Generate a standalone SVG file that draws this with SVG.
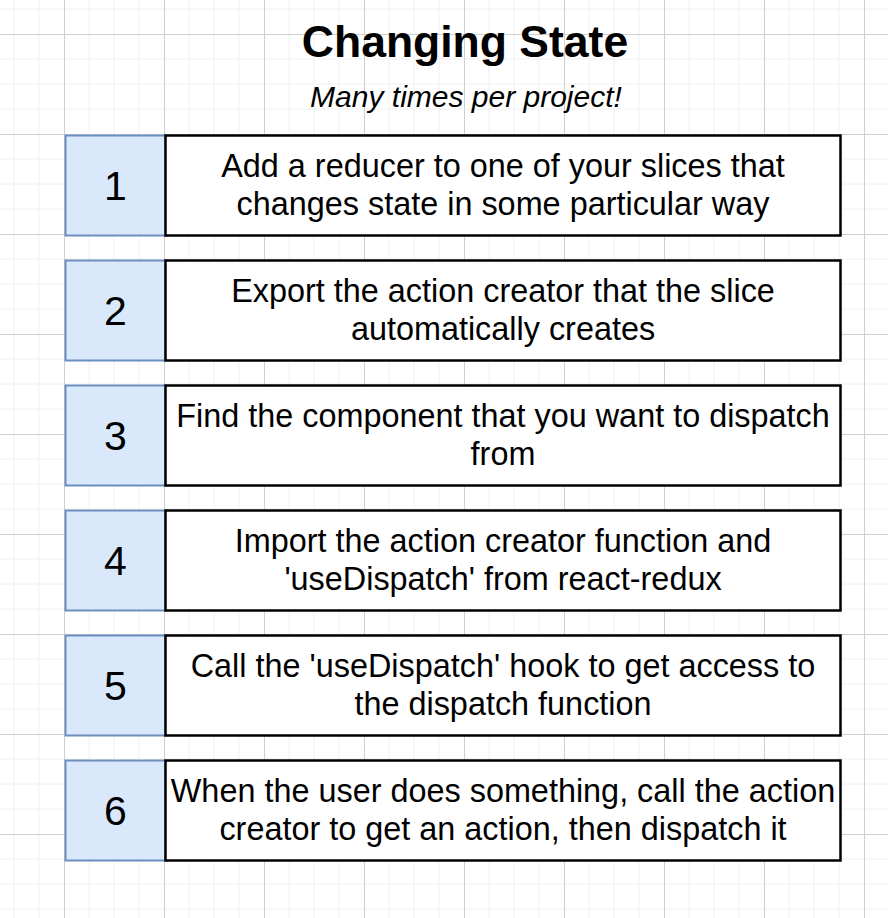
<svg xmlns="http://www.w3.org/2000/svg" width="888" height="918" viewBox="0 0 888 918">
<defs>
<style>
.num{fill:#dae8fc;stroke:#6c8ebf;stroke-width:2}
.box{fill:#ffffff;stroke:#000000;stroke-width:2.5}
.t{font-family:"Liberation Sans",Arial,Helvetica,sans-serif;font-size:32.4px;fill:#000;text-anchor:middle}
.n{font-family:"Liberation Sans",Arial,Helvetica,sans-serif;font-size:41px;fill:#000;text-anchor:middle}
.title{font-family:"Liberation Sans",Arial,Helvetica,sans-serif;font-size:44.5px;font-weight:bold;fill:#000;text-anchor:middle}
.sub{font-family:"Liberation Sans",Arial,Helvetica,sans-serif;font-size:30px;font-style:italic;fill:#000;text-anchor:middle}
</style>
<pattern id="grid" x="64" y="34" width="100" height="100" patternUnits="userSpaceOnUse">
<path d="M25 0V100M50 0V100M75 0V100M0 25H100M0 50H100M0 75H100" stroke="#f0f0f0" stroke-width="1" fill="none"/>
<path d="M0.5 0V100M0 0.5H100" stroke="#d0d0d0" stroke-width="1" fill="none"/>
</pattern>
</defs>
<rect width="888" height="918" fill="#ffffff"/>
<rect width="888" height="918" fill="url(#grid)"/>
<g id="title">
<text class="title" x="465" y="57">Changing State</text>
<text class="sub" x="466" y="106.5">Many times per project!</text>
</g>
<g id="connectors"></g>
<g id="step1">
<rect class="num" x="65.5" y="135.5" width="100" height="100"/>
<rect class="box" x="165.5" y="135.5" width="675" height="100"/>
<text class="n" x="115.5" y="200">1</text>
<text class="t" x="503" y="177">Add a reducer to one of your slices that</text>
<text class="t" x="503" y="214.5">changes state in some particular way</text>
</g>
<g id="step2">
<rect class="num" x="65.5" y="260.5" width="100" height="100"/>
<rect class="box" x="165.5" y="260.5" width="675" height="100"/>
<text class="n" x="115.5" y="325">2</text>
<text class="t" x="503" y="302">Export the action creator that the slice</text>
<text class="t" x="503" y="339.5">automatically creates</text>
</g>
<g id="step3">
<rect class="num" x="65.5" y="385.5" width="100" height="100"/>
<rect class="box" x="165.5" y="385.5" width="675" height="100"/>
<text class="n" x="115.5" y="450">3</text>
<text class="t" x="503" y="427">Find the component that you want to dispatch</text>
<text class="t" x="503" y="464.5">from</text>
</g>
<g id="step4">
<rect class="num" x="65.5" y="510.5" width="100" height="100"/>
<rect class="box" x="165.5" y="510.5" width="675" height="100"/>
<text class="n" x="115.5" y="575">4</text>
<text class="t" x="503" y="552">Import the action creator function and</text>
<text class="t" x="503" y="589.5">'useDispatch' from react-redux</text>
</g>
<g id="step5">
<rect class="num" x="65.5" y="635.5" width="100" height="100"/>
<rect class="box" x="165.5" y="635.5" width="675" height="100"/>
<text class="n" x="115.5" y="700">5</text>
<text class="t" x="503" y="677">Call the 'useDispatch' hook to get access to</text>
<text class="t" x="503" y="714.5">the dispatch function</text>
</g>
<g id="step6">
<rect class="num" x="65.5" y="760.5" width="100" height="100"/>
<rect class="box" x="165.5" y="760.5" width="675" height="100"/>
<text class="n" x="115.5" y="825">6</text>
<text class="t" x="503" y="802">When the user does something, call the action</text>
<text class="t" x="503" y="839.5">creator to get an action, then dispatch it</text>
</g>
</svg>
